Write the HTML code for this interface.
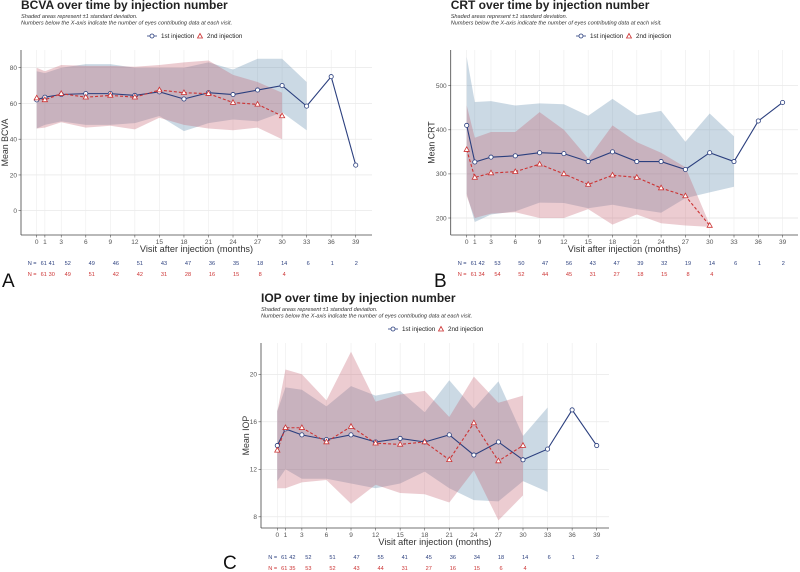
<!DOCTYPE html>
<html><head><meta charset="utf-8">
<style>
html,body{margin:0;padding:0;background:#fff;width:800px;height:572px;overflow:hidden}
svg{display:block;font-family:"Liberation Sans",sans-serif}
</style></head>
<body>
<svg id="fig" width="800" height="572" viewBox="0 0 800 572"></svg>
<script>
const months=[0,1,3,6,9,12,15,18,21,24,27,30,33,36,39];
// Panel A: BCVA
const bcvaBlueMean=[62,63.5,65,65.5,65.5,64.5,66.5,62.5,66,65,67.5,70,58.5,75,25.5];
const bcvaBlueUp=[78,77,80,82,82,80,80,80,83,79,85,85,72];
const bcvaBlueLo=[46,48,50,48,48,49,53,44.5,49,51,50,55,45];
const bcvaRedMean=[63,62,65.5,63.5,64.5,63.5,67.5,66,65.5,60.5,59.5,53];
const bcvaRedUp=[80,78,81.5,81,81,80.5,81.5,83,84,76,72,66];
const bcvaRedLo=[46,46.5,49.5,46.5,47.5,45.5,52,48,46,45,46.5,40];
const bcvaTicks=[0,20,40,60,80];
const bcvaNBlue=[61,41,52,49,46,51,43,47,36,35,18,14,6,1,2];
const bcvaNRed=[61,30,49,51,42,42,31,28,16,15,8,4];
// Panel B: CRT
const crtBlueMean=[410,327,338,341,348,346,328,350,328,328,310,348,328,420,462];
const crtBlueUp=[565,463,465,455,460,458,432,470,433,443,373,437,385];
const crtBlueLo=[255,191,208,215,235,234,222,230,220,212,245,258,271];
const crtRedMean=[355,292,302,305,322,300,276,297,292,268,250,183];
const crtRedUp=[455,382,395,395,440,400,335,410,372,348,315,185];
const crtRedLo=[250,200,210,213,200,200,220,185,208,188,183,180];
const crtTicks=[200,300,400,500];
const crtNBlue=[61,42,53,50,47,56,43,47,39,32,19,14,6,1,2];
const crtNRed=[61,34,54,52,44,45,31,27,18,15,8,4];
// Panel C: IOP
const iopBlueMean=[14,15.4,14.9,14.5,14.9,14.3,14.6,14.3,14.9,13.2,14.3,12.8,13.7,17,14];
const iopBlueUp=[16.9,18.9,18.7,17.3,19,18.2,18.6,16.8,19.5,17.1,19.4,14.8,17.2];
const iopBlueLo=[11,12,11.2,11.2,10.8,10.4,10.8,11.8,10.4,9.4,9.3,11,10.1];
const iopRedMean=[13.6,15.5,15.5,14.3,15.6,14.2,14.1,14.3,12.8,15.9,12.7,14.0];
const iopRedUp=[16.9,20.4,20,17.8,21.9,17.7,18.3,18.6,16.4,19.8,17.6,18.2];
const iopRedLo=[10.4,10.4,10.9,11.1,9.1,10.7,10,9.9,9.2,11.9,7.7,9.8];
const iopTicks=[8,12,16,20];
const iopNBlue=[61,42,52,51,47,55,41,45,36,34,18,14,6,1,2];
const iopNRed=[61,35,53,52,43,44,31,27,16,15,6,4];

const NS="http://www.w3.org/2000/svg";
const svg=document.getElementById('fig');
function mk(tag,attrs,parent,text){const e=document.createElementNS(NS,tag);for(const k in attrs)e.setAttribute(k,attrs[k]);if(text!==undefined)e.textContent=text;(parent||svg).appendChild(e);return e;}

const BLUE='#2b3f7e',RED='#cc3333';
function panel(cfg){
  const g=mk('g',{});
  
  
  const L=cfg.left,R=cfg.right,T=cfg.top,B=cfg.bottom;
  const xs=m=>cfg.x0+m*cfg.xk;
  const ys=v=>cfg.yPix0+(v-cfg.yVal0)*cfg.yk;
  const t=mk('text',{x:cfg.tx,y:cfg.ty,'font-size':12,'font-weight':'bold',fill:'#222'},g,cfg.title);
  
  const s1=mk('text',{x:cfg.tx,y:cfg.ty+9,'font-size':5.6,'font-style':'italic',fill:'#333'},g,'Shaded areas represent ±1 standard deviation.');
  
  const s2=mk('text',{x:cfg.tx,y:cfg.ty+15.5,'font-size':5.6,'font-style':'italic',fill:'#333'},g,'Numbers below the X-axis indicate the number of eyes contributing data at each visit.');
  
  const lg=mk('g',{},g);
  const lx=cfg.lx,ly=cfg.ly;
  mk('line',{x1:lx-5,x2:lx+5,y1:ly,y2:ly,stroke:BLUE,'stroke-width':0.8},lg);
  mk('circle',{cx:lx,cy:ly,r:2,fill:'#fff',stroke:BLUE,'stroke-width':0.8},lg);
  const le1=mk('text',{x:lx+9,y:ly+2.2,'font-size':6.3,fill:'#222'},lg,'1st injection');
  
  mk('polygon',{points:`${lx+48},${ly-2.5} ${lx+45.5},${ly+2} ${lx+50.5},${ly+2}`,fill:'#fff',stroke:RED,'stroke-width':0.8},lg);
  const le2=mk('text',{x:lx+55,y:ly+2.2,'font-size':6.3,fill:'#222'},lg,'2nd injection');
  
  cfg.ticks.forEach(v=>{mk('line',{x1:L,x2:R,y1:ys(v),y2:ys(v),stroke:'#e3e3e3','stroke-width':0.7},g);
    const tl=mk('text',{x:L-4,y:ys(v)+2.3,'font-size':6.5,fill:'#555','text-anchor':'end'},g,String(v));
    });
  months.forEach(m=>{mk('line',{x1:xs(m),x2:xs(m),y1:T,y2:B,stroke:'#ececec','stroke-width':0.6},g);
    mk('line',{x1:xs(m),x2:xs(m),y1:B,y2:B+2.5,stroke:'#555','stroke-width':0.6},g);
    const tl=mk('text',{x:xs(m),y:B+9,'font-size':6.5,fill:'#555','text-anchor':'middle'},g,String(m));
    });
  cfg.ticks.forEach(v=>mk('line',{x1:L-2.5,x2:L,y1:ys(v),y2:ys(v),stroke:'#555','stroke-width':0.6},g));
  function band(up,lo,col,name){const n=up.length;let p='';
    for(let i=0;i<n;i++)p+=(i?'L':'M')+xs(months[i])+','+ys(up[i]);
    for(let i=n-1;i>=0;i--)p+='L'+xs(months[i])+','+ys(lo[i]);
    const e=mk('path',{d:p+'Z',fill:col},g);}
  band(cfg.bu,cfg.bl,'rgba(92,138,172,0.32)','sd-band-1st');
  band(cfg.ru,cfg.rl,'rgba(196,96,112,0.32)','sd-band-2nd');
  function line(vals,col,dash,name){const p=vals.map((v,i)=>(i?'L':'M')+xs(months[i])+','+ys(v)).join('');
    const e=mk('path',{d:p,fill:'none',stroke:col,'stroke-width':1.1,'stroke-dasharray':dash},g);
    }
  line(cfg.bm,BLUE,'none','line-1st');
  line(cfg.rm,RED,'3,2','line-2nd');
  cfg.bm.forEach((v,i)=>{const c=mk('circle',{cx:xs(months[i]),cy:ys(v),r:2.1,fill:'#fff',stroke:BLUE,'stroke-width':0.8},g);
    });
  cfg.rm.forEach((v,i)=>{const x=xs(months[i]),y=ys(v);
    const c=mk('polygon',{points:`${x},${y-2.8} ${x-2.6},${y+1.8} ${x+2.6},${y+1.8}`,fill:'#fff',stroke:RED,'stroke-width':0.8},g);
    });
  mk('line',{x1:L,x2:L,y1:T,y2:B,stroke:'#444','stroke-width':0.8},g);
  mk('line',{x1:L,x2:R,y1:B,y2:B,stroke:'#444','stroke-width':0.8},g);
  const xt=mk('text',{x:(L+R)/2,y:B+17,'font-size':9.2,fill:'#333','text-anchor':'middle'},g,'Visit after injection (months)');
  
  const yc=(T+B)/2, yx=L-cfg.yOff;
  const yt=mk('text',{x:yx,y:yc,'font-size':8.8,fill:'#333','text-anchor':'middle',transform:`rotate(-90 ${yx} ${yc})`},g,cfg.ylab);
  
  const nx=m=>xs(0)+7+m*cfg.xk*0.98;
  const n1=mk('text',{x:nx(0)-16,y:cfg.ny,'font-size':5.6,fill:BLUE},g,'N =');
  
  const n2=mk('text',{x:nx(0)-16,y:cfg.ny+11,'font-size':5.6,fill:RED},g,'N =');
  
  cfg.nb.forEach((n,i)=>{const e=mk('text',{x:nx(months[i]),y:cfg.ny,'font-size':5.6,fill:BLUE,'text-anchor':'middle'},g,String(n));
    });
  cfg.nr.forEach((n,i)=>{const e=mk('text',{x:nx(months[i]),y:cfg.ny+11,'font-size':5.6,fill:RED,'text-anchor':'middle'},g,String(n));
    });
  const pl=mk('text',{x:cfg.px,y:cfg.py,'font-size':19,fill:'#111'},g,cfg.letter);
  
}
panel({id:'bcva',title:'BCVA over time by injection number',ylab:'Mean BCVA',letter:'A',
  left:21,right:372,top:50,bottom:235,x0:36.7,xk:8.18,yPix0:210.7,yVal0:0,yk:-1.7875,yOff:13,
  tx:21,ty:9,lx:152,ly:36,ny:265,px:2,py:287,ticks:bcvaTicks,
  bm:bcvaBlueMean,bu:bcvaBlueUp,bl:bcvaBlueLo,rm:bcvaRedMean,ru:bcvaRedUp,rl:bcvaRedLo,nb:bcvaNBlue,nr:bcvaNRed});
panel({id:'crt',title:'CRT over time by injection number',ylab:'Mean CRT',letter:'B',
  left:450.7,right:798,top:50,bottom:235,x0:466.7,xk:8.1,yPix0:218,yVal0:200,yk:-0.441,yOff:16,
  tx:450.7,ty:9,lx:581,ly:36,ny:265,px:434,py:287,ticks:crtTicks,
  bm:crtBlueMean,bu:crtBlueUp,bl:crtBlueLo,rm:crtRedMean,ru:crtRedUp,rl:crtRedLo,nb:crtNBlue,nr:crtNRed});
panel({id:'iop',title:'IOP over time by injection number',ylab:'Mean IOP',letter:'C',
  left:261,right:609,top:343,bottom:528,x0:277.3,xk:8.19,yPix0:374.3,yVal0:20,yk:-11.875,yOff:12,
  tx:261,ty:302,lx:393,ly:329,ny:559,px:223,py:569,ticks:iopTicks,
  bm:iopBlueMean,bu:iopBlueUp,bl:iopBlueLo,rm:iopRedMean,ru:iopRedUp,rl:iopRedLo,nb:iopNBlue,nr:iopNRed});
</script>
</body></html>
